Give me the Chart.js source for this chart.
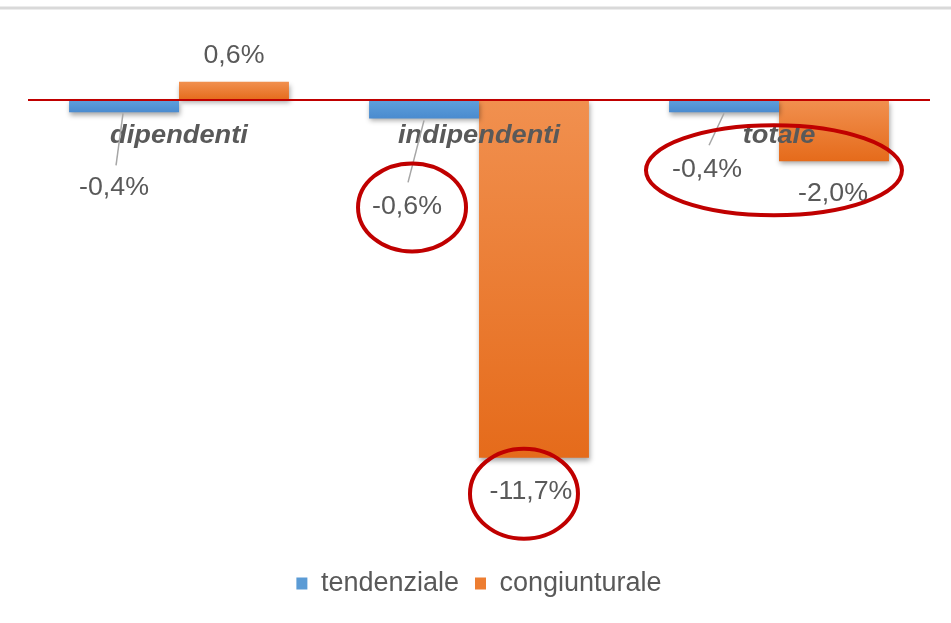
<!DOCTYPE html>
<html>
<head>
<meta charset="utf-8">
<script src="https://cdn.jsdelivr.net/npm/chart.js@4.4.0/dist/chart.umd.min.js"></script>
<style>
  html, body { margin: 0; padding: 0; background: #ffffff; }
  #wrap { position: relative; width: 951px; height: 623px; }
</style>
</head>
<body>
<div id="wrap"><canvas id="myChart"></canvas></div>
<script>
// data
const categories = ['dipendenti', 'indipendenti', 'totale'];
const seriesNames = ['tendenziale', 'congiunturale'];
const tendenziale = [-0.4, -0.6, -0.4];
const congiunturale = [0.6, -11.7, -2.0];

const FONT = '"Liberation Sans", Arial, sans-serif';
const GREY_TEXT = '#595959';

// gradient colours per series: [top, bottom]
const fills = [
  ['#5fa0dc', '#4a8bcf'],
  ['#f1904f', '#e56b1b']
];
const solid = ['#5b9bd5', '#ed7d31'];

function barGradient(context) {
  const chart = context.chart;
  const area = chart.chartArea;
  const pair = fills[context.datasetIndex];
  if (!area) return pair[0];
  const v = context.raw;
  const y = chart.scales.y;
  const top = y.getPixelForValue(Math.max(v, 0));
  const bottom = y.getPixelForValue(Math.min(v, 0));
  const g = chart.ctx.createLinearGradient(0, top, 0, Math.max(bottom, top + 1));
  g.addColorStop(0, pair[0]);
  g.addColorStop(1, pair[1]);
  return g;
}

function fmt(v) {
  return v.toFixed(1).replace('.', ',') + '%';
}

// label placement relative to bar end: [datasetIndex][index] -> {dx, dy, leader}
const labelPos = [
  [
    { dx: -10, dy: 76, leader: [-1, 1, -8, 53] },
    { dx: -17, dy: 89, leader: [0, 2, -16, 64] },
    { dx: -17, dy: 58, leader: [0, 1, -15, 33] }
  ],
  [
    { dx: 0, dy: -26 },
    { dx: -3, dy: 34 },
    { dx: -1, dy: 33 }
  ]
];

// red ellipses, anchored on bars
const rings = [
  { ds: 0, i: 1, dx: -12, dy: 89, rx: 54, ry: 44 },
  { ds: 1, i: 1, dx: -10, dy: 36, rx: 54, ry: 45 },
  { ds: 1, i: 2, dx: -60, dy: 9, rx: 128, ry: 45 }
];

function stretchedText(ctx, text, x, y, sx) {
  ctx.save();
  ctx.translate(x, y);
  ctx.scale(sx, 1);
  ctx.fillText(text, 0, 0);
  ctx.restore();
}

const decorations = {
  id: 'decorations',
  beforeDraw(chart) {
    const ctx = chart.ctx;
    ctx.save();
    ctx.strokeStyle = '#d9d9d9';
    ctx.lineWidth = 3;
    ctx.beginPath();
    ctx.moveTo(0, 8);
    ctx.lineTo(chart.width, 8);
    ctx.stroke();
    ctx.restore();
  },
  beforeDatasetsDraw(chart) {
    const ctx = chart.ctx;
    ctx.save();
    ctx.shadowColor = 'rgba(0,0,0,0.35)';
    ctx.shadowBlur = 5;
    ctx.shadowOffsetX = 1;
    ctx.shadowOffsetY = 3;
  },
  afterDatasetsDraw(chart) {
    const ctx = chart.ctx;
    ctx.restore();
    const area = chart.chartArea;
    const y0 = chart.scales.y.getPixelForValue(0);

    // zero line
    ctx.save();
    ctx.strokeStyle = '#c00000';
    ctx.lineWidth = 2;
    ctx.beginPath();
    ctx.moveTo(area.left - 1, y0);
    ctx.lineTo(area.right + 1, y0);
    ctx.stroke();

    // category names over the bars
    ctx.fillStyle = GREY_TEXT;
    ctx.font = 'italic bold 25px ' + FONT;
    ctx.textAlign = 'center';
    ctx.textBaseline = 'middle';
    const xs = chart.scales.x;
    categories.forEach((c, i) => {
      stretchedText(ctx, c, xs.getPixelForValue(i), y0 + 36, 1.09);
    });

    // leader lines and value labels
    ctx.font = '25px ' + FONT;
    chart.data.datasets.forEach((ds, d) => {
      const meta = chart.getDatasetMeta(d);
      meta.data.forEach((bar, i) => {
        const p = labelPos[d][i];
        if (p.leader) {
          ctx.strokeStyle = '#a6a6a6';
          ctx.lineWidth = 1.5;
          ctx.beginPath();
          ctx.moveTo(bar.x + p.leader[0], bar.y + p.leader[1]);
          ctx.lineTo(bar.x + p.leader[2], bar.y + p.leader[3]);
          ctx.stroke();
        }
        ctx.fillStyle = GREY_TEXT;
        stretchedText(ctx, fmt(ds.data[i]), bar.x + p.dx, bar.y + p.dy, 1.07);
      });
    });

    // red rings
    ctx.strokeStyle = '#c00000';
    ctx.lineWidth = 4;
    rings.forEach(r => {
      const bar = chart.getDatasetMeta(r.ds).data[r.i];
      ctx.beginPath();
      ctx.ellipse(bar.x + r.dx, bar.y + r.dy, r.rx, r.ry, 0, 0, Math.PI * 2);
      ctx.stroke();
    });
    ctx.restore();
  }
};

new Chart(document.getElementById('myChart').getContext('2d'), {
  type: 'bar',
  data: {
    labels: categories,
    datasets: [
      { label: seriesNames[0], data: tendenziale, backgroundColor: barGradient, borderWidth: 0 },
      { label: seriesNames[1], data: congiunturale, backgroundColor: barGradient, borderWidth: 0 }
    ]
  },
  options: {
    responsive: true,
    maintainAspectRatio: false,
    animation: false,
    layout: { padding: { top: 69.5, left: 29, right: 22, bottom: 16 } },
    datasets: { bar: { categoryPercentage: 0.733, barPercentage: 1 } },
    scales: {
      x: { display: false },
      y: { display: false, min: -14.85, max: 1 }
    },
    plugins: {
      tooltip: { enabled: false },
      legend: {
        position: 'bottom',
        labels: {
          boxWidth: 11,
          boxHeight: 12,
          padding: 16,
          color: GREY_TEXT,
          font: { size: 27, family: FONT },
          generateLabels(chart) {
            const items = Chart.defaults.plugins.legend.labels.generateLabels(chart);
            items.forEach((it, k) => {
              it.fillStyle = solid[k];
              it.strokeStyle = solid[k];
              it.lineWidth = 0;
            });
            return items;
          }
        }
      }
    }
  },
  plugins: [decorations]
});
</script>
</body>
</html>
